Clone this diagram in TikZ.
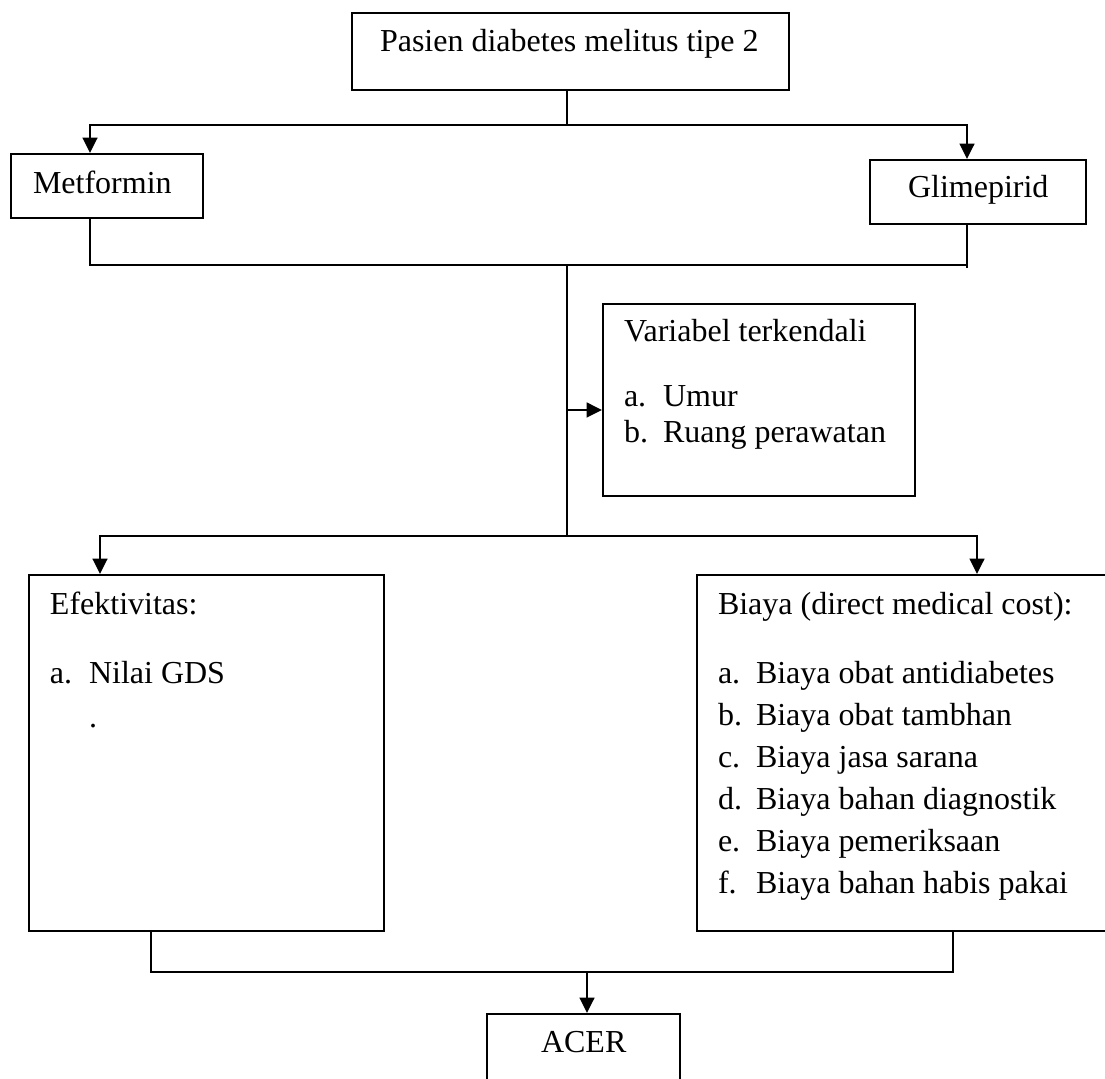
\documentclass[tikz,border=0pt]{standalone}
\usepackage{fontspec}
\setmainfont{Liberation Serif}
\usetikzlibrary{arrows.meta}
\tikzset{
  box/.style={draw, rectangle, line width=0.75pt, anchor=north west, inner sep=0pt},
  txt/.style={anchor=base west, inner sep=0pt, font=\fontsize{12}{14}\selectfont},
}
\begin{document}
\begin{tikzpicture}[x=0.375pt, y=-0.375pt, line width=0.75pt, >={Triangle[length=5.8pt,width=5.6pt]}]
    \useasboundingbox (0,0) rectangle (1105,1079);
    \clip (0,0) rectangle (1105,1079);
    % boxes
    \node[box, minimum width=164pt, minimum height=29pt] (top) at (351,12) {};
    \node[box, minimum width=72pt, minimum height=24pt] (metformin) at (10,153) {};
    \node[box, minimum width=81pt, minimum height=24pt] (glimepirid) at (869,159) {};
    \node[box, minimum width=117pt, minimum height=72pt] (variabel) at (602,303) {};
    \node[box, minimum width=133pt, minimum height=133.5pt] (efek) at (28,574) {};
    \node[box, minimum width=160pt, minimum height=133.5pt] (biaya) at (696,574) {};
    \node[box, minimum width=72.5pt, minimum height=40pt] (acer) at (486,1013) {};
    % texts
    \node[txt] (t-top) at (379,52) {Pasien diabetes melitus tipe 2};
    \node[txt] (t-met) at (32,194) {Metformin};
    \node[txt] (t-gli) at (907,198) {Glimepirid};
    \node[txt] (t-var) at (623,342) {Variabel terkendali};
    \node[txt] (l-va) at (623,407) {a.};
    \node[txt] (i-va) at (662,407) {Umur};
    \node[txt] (l-vb) at (623,443) {b.};
    \node[txt] (i-vb) at (662,443) {Ruang perawatan};
    \node[txt] (t-efek) at (49,615) {Efektivitas:};
    \node[txt] (l-ea) at (49,684) {a.};
    \node[txt] (i-ea) at (88,684) {Nilai GDS};
    \node[txt] (dot) at (88,728) {.};
    \node[txt] (t-biaya) at (717,615) {Biaya (direct medical cost):};
    \foreach \l/\t [count=\i] in {a/Biaya obat antidiabetes, b/Biaya obat tambhan, c/Biaya jasa sarana, d/Biaya bahan diagnostik, e/Biaya pemeriksaan, f/Biaya bahan habis pakai}
      {
      \node[txt] (l-b\i) at (717,642+42*\i) {\l.};
      \node[txt] (i-b\i) at (755,642+42*\i) {\t};
      }
    \node[txt] (t-acer) at (540,1053) {ACER};
    % junctions
    \coordinate (j1) at (567,125);
    \coordinate (mL) at (90,125);
    \coordinate (gR) at (967,125);
    \coordinate (j2) at (567,265);
    \coordinate (mB) at (90,265);
    \coordinate (gB) at (967,268);
    \coordinate (jv) at (567,410);
    \coordinate (j3) at (567,536);
    \coordinate (eL) at (100,536);
    \coordinate (bR) at (977,536);
    \coordinate (eB) at (151,972);
    \coordinate (bB) at (953,972);
    \coordinate (j4) at (587,972);
    % connectors
    \draw (j1 |- top.south) -- (j1);
    \draw [->] (j1) -- (mL) -- (mL |- metformin.north);
    \draw [->] (j1) -- (gR) -- (gR |- glimepirid.north);
    \draw (mL |- metformin.south) -- (mB) -- (gB |- mB) -- (gR |- glimepirid.south);
    \draw (gR |- glimepirid.south) -- (gB);
    \draw (j2) -- (j3);
    \draw [->] (jv) -- (jv -| variabel.west);
    \draw [->] (j3) -- (eL) -- (eL |- efek.north);
    \draw [->] (j3) -- (bR) -- (bR |- biaya.north);
    \draw (eB |- efek.south) -- (eB) -- (bB) -- (bB |- biaya.south);
    \draw [->] (j4) -- (j4 |- acer.north);
  \end{tikzpicture}
\end{document}
